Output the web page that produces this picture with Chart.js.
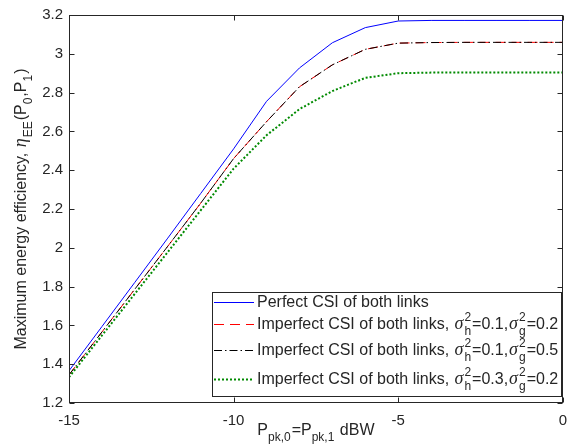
<!DOCTYPE html>
<html>
<head>
<meta charset="utf-8">
<script src="https://cdn.jsdelivr.net/npm/chart.js@4"></script>
<style>
  body { margin: 0; background: #fff; }
  #wrap { width: 576px; height: 445px; }
</style>
</head>
<body>
<div id="wrap"><canvas id="res-canvas" width="576" height="445"></canvas></div>
<script>
// peak power P_pk,0 = P_pk,1 in dBW
const powerDbw = [-15, -14, -13, -12, -11, -10, -9, -8, -7, -6, -5, -4, -3, -2, -1, 0];

// maximum energy efficiency for each case
const perfectCsi = [1.366, 1.594, 1.822, 2.050, 2.280, 2.510, 2.755, 2.927, 3.057, 3.135, 3.169, 3.172, 3.172, 3.172, 3.172, 3.172];
const imperfectA = [1.345, 1.566, 1.787, 2.008, 2.230, 2.460, 2.650, 2.830, 2.943, 3.023, 3.055, 3.058, 3.059, 3.059, 3.059, 3.059];
const imperfectB = [1.345, 1.566, 1.787, 2.008, 2.230, 2.460, 2.650, 2.830, 2.943, 3.023, 3.055, 3.058, 3.059, 3.059, 3.059, 3.059];
const imperfectC = [1.333, 1.548, 1.763, 1.978, 2.193, 2.408, 2.580, 2.715, 2.808, 2.876, 2.900, 2.903, 2.904, 2.904, 2.904, 2.904];

const xTicks = [-15, -10, -5, 0];
const yTicks = [1.2, 1.4, 1.6, 1.8, 2, 2.2, 2.4, 2.6, 2.8, 3, 3.2];

// legend entries, tokens: plain text, greek (italic), stacked sup/sub
const legendRows = [
  [{ t: 'Perfect CSI of both links' }],
  [{ t: 'Imperfect CSI of both links, ' }, { g: 'σ' }, { sup: '2', sub: 'h' }, { t: '=0.1,' }, { g: 'σ' }, { sup: '2', sub: 'g' }, { t: '=0.2' }],
  [{ t: 'Imperfect CSI of both links, ' }, { g: 'σ' }, { sup: '2', sub: 'h' }, { t: '=0.1,' }, { g: 'σ' }, { sup: '2', sub: 'g' }, { t: '=0.5' }],
  [{ t: 'Imperfect CSI of both links, ' }, { g: 'σ' }, { sup: '2', sub: 'h' }, { t: '=0.3,' }, { g: 'σ' }, { sup: '2', sub: 'g' }, { t: '=0.2' }]
];
const xTitle = [{ t: 'P' }, { sub: 'pk,0' }, { t: '=P' }, { sub: 'pk,1' }, { t: ' dBW' }];
const yTitle = [{ t: 'Maximum energy efficiency, ' }, { g: 'η' }, { sub: 'EE' }, { t: '(P' }, { sub: '0' }, { t: ',P' }, { sub: '1' }, { t: ')' }];

const SANS = '"Liberation Sans", Arial, sans-serif';
const SERIF = '"Liberation Serif", "Times New Roman", serif';
const INK = '#262626';

function pts(ys) {
  return powerDbw.map((x, i) => ({ x: x, y: ys[i] }));
}

// draw (or just measure) a line of text with tex-like sub/superscripts
function rich(ctx, tokens, x, y, size, draw) {
  let cx = x;
  const small = Math.round(size * 0.78);
  for (const tk of tokens) {
    if (tk.t !== undefined) {
      ctx.font = size + 'px ' + SANS;
      if (draw) ctx.fillText(tk.t, cx, y);
      cx += ctx.measureText(tk.t).width;
    } else if (tk.g !== undefined) {
      ctx.font = 'italic ' + (size + 2) + 'px ' + SERIF;
      if (draw) ctx.fillText(tk.g, cx + 1, y);
      cx += ctx.measureText(tk.g).width + 2;
    } else {
      ctx.font = small + 'px ' + SANS;
      let w = 0;
      if (tk.sup !== undefined) {
        if (draw) ctx.fillText(tk.sup, cx, y - size * 0.5);
        w = Math.max(w, ctx.measureText(tk.sup).width);
      }
      if (tk.sub !== undefined) {
        if (draw) ctx.fillText(tk.sub, cx, y + size * 0.38);
        w = Math.max(w, ctx.measureText(tk.sub).width);
      }
      cx += w + 1;
    }
  }
  return cx - x;
}

const matlabLook = {
  id: 'matlabLook',
  afterDraw(chart) {
    const ctx = chart.ctx;
    const a = chart.chartArea;
    const xs = chart.scales.x, ys = chart.scales.y;
    const L = Math.round(a.left) + 0.5, R = Math.round(a.right) - 0.5;
    const T = Math.round(a.top) + 0.5, B = Math.round(a.bottom) - 0.5;
    ctx.save();
    ctx.strokeStyle = INK;
    ctx.lineWidth = 1;
    ctx.strokeRect(L, T, R - L, B - T);
    // inward ticks on all four sides
    ctx.beginPath();
    xTicks.forEach(v => {
      const px = Math.round(xs.getPixelForValue(v)) + 0.5;
      ctx.moveTo(px, B); ctx.lineTo(px, B - 5);
      ctx.moveTo(px, T); ctx.lineTo(px, T + 5);
    });
    yTicks.forEach(v => {
      const py = Math.round(ys.getPixelForValue(v)) + 0.5;
      ctx.moveTo(L, py); ctx.lineTo(L + 5, py);
      ctx.moveTo(R, py); ctx.lineTo(R - 5, py);
    });
    ctx.stroke();

    // legend
    const lx = 212.5, ly = 292.5, lw = 349, lh = 104;
    ctx.fillStyle = '#fff';
    ctx.fillRect(lx, ly, lw, lh);
    ctx.strokeStyle = INK;
    ctx.strokeRect(lx, ly, lw, lh);
    const baselines = [306.5, 328.5, 355, 383.5];
    chart.data.datasets.forEach((ds, i) => {
      const yb = baselines[i];
      const yl = Math.round(yb - 5) + 0.5;
      ctx.strokeStyle = ds.borderColor;
      ctx.lineWidth = ds.borderWidth;
      ctx.setLineDash(ds.borderDash || []);
      ctx.beginPath();
      ctx.moveTo(214, yl); ctx.lineTo(254, yl);
      ctx.stroke();
      ctx.setLineDash([]);
      ctx.fillStyle = INK;
      ctx.textBaseline = 'alphabetic';
      ctx.textAlign = 'left';
      rich(ctx, legendRows[i], 257, yb, 16, true);
    });

    // axis titles
    ctx.fillStyle = INK;
    const xw = rich(ctx, xTitle, 0, 0, 16, false);
    rich(ctx, xTitle, (a.left + a.right) / 2 - xw / 2, 435, 16, true);
    const yw = rich(ctx, yTitle, 0, 0, 16, false);
    ctx.translate(26, (a.top + a.bottom) / 2);
    ctx.rotate(-Math.PI / 2);
    rich(ctx, yTitle, -yw / 2, 0, 16, true);
    ctx.restore();
  }
};

const ctx = document.getElementById('res-canvas').getContext('2d');
new Chart(ctx, {
  type: 'line',
  data: {
    datasets: [
      { label: 'Perfect CSI of both links', data: pts(perfectCsi), borderColor: '#0000ff', borderWidth: 1, order: 0 },
      { label: 'Imperfect A', data: pts(imperfectA), borderColor: '#ff0000', borderWidth: 1, borderDash: [10, 6], order: 3 },
      { label: 'Imperfect B', data: pts(imperfectB), borderColor: '#000000', borderWidth: 1, borderDash: [8, 3, 1.5, 3], order: 2 },
      { label: 'Imperfect C', data: pts(imperfectC), borderColor: '#008a00', borderWidth: 2, borderDash: [2, 2], order: 1 }
    ]
  },
  options: {
    responsive: false,
    animation: false,
    layout: { padding: { top: 9, right: 8, left: 0, bottom: 0 } },
    elements: { point: { radius: 0 }, line: { tension: 0, fill: false } },
    plugins: { legend: { display: false }, tooltip: { enabled: false } },
    scales: {
      x: {
        type: 'linear', min: -15, max: 0,
        afterFit: s => { s.height = 42; },
        afterBuildTicks: s => { s.ticks = xTicks.map(v => ({ value: v })); },
        grid: { display: false, drawTicks: false },
        border: { display: false },
        ticks: { color: INK, font: { family: SANS, size: 15 }, padding: 9, maxRotation: 0 }
      },
      y: {
        type: 'linear', min: 1.2, max: 3.2,
        afterFit: s => { s.width = 69; },
        afterBuildTicks: s => { s.ticks = yTicks.map(v => ({ value: v })); },
        grid: { display: false, drawTicks: false },
        border: { display: false },
        ticks: { color: INK, font: { family: SANS, size: 15 }, padding: 6, callback: v => String(+v.toFixed(1)) }
      }
    }
  },
  plugins: [matlabLook]
});
</script>
</body>
</html>
